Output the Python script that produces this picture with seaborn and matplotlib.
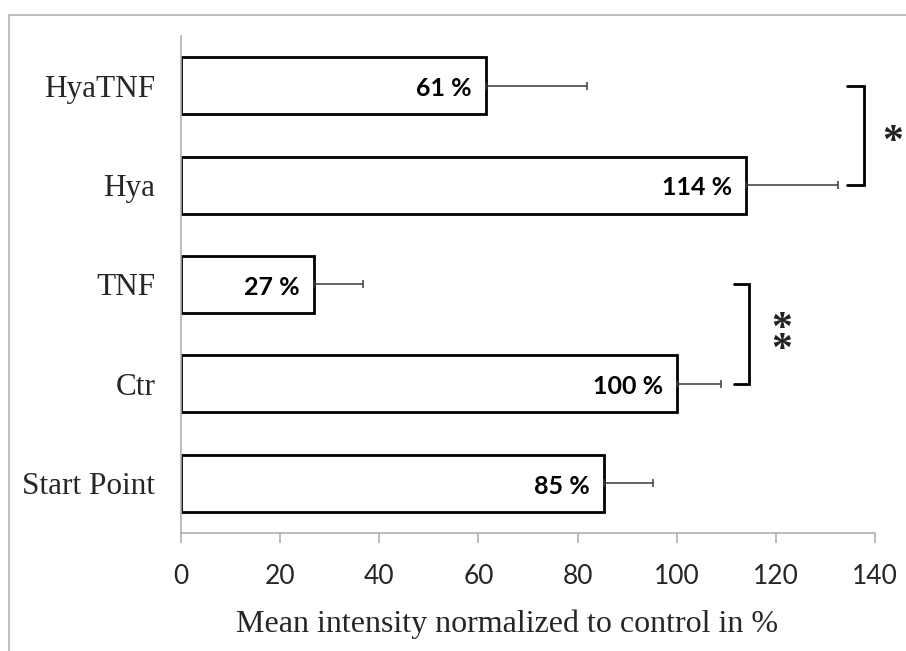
import matplotlib
matplotlib.use("Agg")
import matplotlib.pyplot as plt
import seaborn as sns
import pandas as pd
from matplotlib.patches import Rectangle

categories = ["HyaTNF", "Hya", "TNF", "Ctr", "Start Point"]
values = [61.5, 114, 26.8, 100, 85.3]
errors = [20.4, 18.5, 9.9, 9.0, 10.0]
bar_labels = ["61 %", "114 %", "27 %", "100 %", "85 %"]
xticks = [0, 20, 40, 60, 80, 100, 120, 140]
xlabel = "Mean intensity normalized to control in %"

df = pd.DataFrame({"cat": categories, "val": values})

sns.set_theme(style="white")
fig = plt.figure(figsize=(9.06, 6.51), dpi=100)
ax = fig.add_axes([0.1998, 0.1813, 0.766, 0.7634])

sns.barplot(data=df, x="val", y="cat", order=categories, orient="h",
            color="white", edgecolor="black", linewidth=2.0, width=0.575,
            errorbar=None, ax=ax)
for p in ax.patches:
    p.set_facecolor("white")

ypos = list(range(len(categories)))
ax.errorbar(values, ypos, xerr=[[0]*len(errors), errors], fmt="none",
            ecolor="#3a3a3a", elinewidth=1.1, capsize=3, capthick=1.1, zorder=1)

for v, y, lab in zip(values, ypos, bar_labels):
    ax.annotate(lab, xy=(v, y), xytext=(-10, -2), textcoords="offset points",
                ha="right", va="center", fontsize=18, fontweight="bold",
                family="Lato", color="black")

ax.set_xlim(0, 140)
ax.set_ylim(len(categories) - 0.5, -0.5)
ax.set_xticks(xticks)
ax.set_xticklabels([str(t) for t in xticks], family="Lato", fontsize=19)
ax.tick_params(axis="x", which="major", direction="out", length=7, width=1.2,
               color="#b0b0b0", pad=15, bottom=True)
ax.tick_params(axis="y", length=0, pad=18.5)
for lab in ax.get_yticklabels():
    lab.set_family("Liberation Serif")
    lab.set_fontsize(22.5)
ax.set_ylabel("")
ax.set_xlabel(xlabel, family="Liberation Serif", fontsize=23)
ax.xaxis.set_label_coords(0.470, -0.153)

for s in ["top", "right"]:
    ax.spines[s].set_visible(False)
for s in ["left", "bottom"]:
    ax.spines[s].set_color("#b0b0b0")
    ax.spines[s].set_linewidth(1.2)

# significance brackets
def bracket(y1, y2, x0, x1, txt, tx, ty):
    ax.plot([x0, x1, x1, x0], [y1, y1, y2, y2], color="black", lw=2.0,
            clip_on=False, solid_joinstyle="miter")
    ax.text(tx, ty, txt, ha="center", va="center", fontsize=30,
            fontweight="bold", family="Liberation Serif", color="#222222",
            clip_on=False, linespacing=0.42)

bracket(0, 1, 134.4, 137.8, "*", 143.6, 0.576)
bracket(2, 3, 111.6, 114.6, "*\n*", 121.2, 2.56)

# outer frame
fig.patches.append(Rectangle((9/906, -0.1), 1.2, 1 - 15/651 + 0.1,
                             transform=fig.transFigure, fill=False,
                             edgecolor="#c0c0c0", linewidth=1.5))

fig.savefig("out.png", dpi=100)
